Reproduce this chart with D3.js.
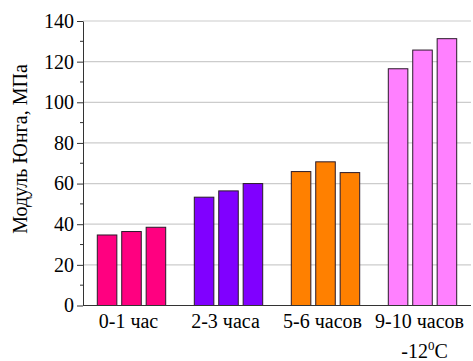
<!DOCTYPE html>
<html>
<head>
<meta charset="utf-8">
<script src="https://cdn.jsdelivr.net/npm/d3@7"></script>
<style>
  html, body { margin: 0; padding: 0; background: #fff; }
  svg { display: block; }
</style>
</head>
<body>
<svg id="chart" width="473" height="361"></svg>
<script>
// Young's modulus by curing time, three samples per time interval
const categories = ["0-1 час", "2-3 часа", "5-6 часов", "9-10 часов"];
const samples = [0, 1, 2];
const values = [
  [34.7, 36.4, 38.5],
  [53.3, 56.4, 60.0],
  [65.9, 70.7, 65.4],
  [116.5, 125.7, 131.3]
];
const colors = ["#ff0080", "#8000ff", "#ff8000", "#ff80ff"];
const yTicks = [0, 20, 40, 60, 80, 100, 120, 140];
const yMinorTicks = [10, 30, 50, 70, 90, 110, 130];
const yTitle = "Модуль Юнга, МПа";
const tempNote = "-12";

const serif = '"Liberation Serif"';
const svg = d3.select("#chart");
const plotLeft = 83, plotRight = 471, plotTop = 21, plotBottom = 305.5;

const x0 = d3.scaleBand().domain(categories).range([plotLeft, plotRight]);
const x1 = d3.scaleBand().domain(samples).range([-34.2, 34.2]).paddingInner(0.2);
const y = d3.scaleLinear().domain([0, 140]).range([plotBottom, plotTop]);

// horizontal grid lines
svg.append("g")
  .selectAll("line")
  .data(yTicks.filter(d => d > 0))
  .join("line")
  .attr("x1", plotLeft).attr("x2", plotRight)
  .attr("y1", d => y(d)).attr("y2", d => y(d))
  .attr("stroke", "#cccccc").attr("stroke-width", 1.2);

// bars
const groups = svg.append("g")
  .selectAll("g")
  .data(categories)
  .join("g")
  .attr("transform", d => `translate(${x0(d) + x0.bandwidth() / 2},0)`);

groups.selectAll("rect")
  .data((d, i) => values[i].map((v, j) => ({ v, j, c: colors[i] })))
  .join("rect")
  .attr("x", d => x1(d.j))
  .attr("width", x1.bandwidth())
  .attr("y", d => y(d.v))
  .attr("height", d => y(0) - y(d.v))
  .attr("fill", d => d.c)
  .attr("stroke", "#2a1a2a")
  .attr("stroke-width", 1);

// y axis with major and minor ticks
const yAxis = svg.append("g")
  .attr("transform", `translate(${plotLeft},0)`)
  .call(d3.axisLeft(y).tickValues(yTicks).tickSize(6).tickSizeOuter(0).tickPadding(3));
yAxis.selectAll("text")
  .style("font-family", serif).style("font-size", "20px").attr("fill", "#000");
yAxis.selectAll("line, path").attr("stroke", "#333");

svg.append("g")
  .selectAll("line")
  .data(yMinorTicks)
  .join("line")
  .attr("x1", plotLeft - 3).attr("x2", plotLeft)
  .attr("y1", d => y(d)).attr("y2", d => y(d))
  .attr("stroke", "#333");

// x axis baseline
svg.append("line")
  .attr("x1", plotLeft).attr("x2", plotRight)
  .attr("y1", y(0)).attr("y2", y(0))
  .attr("stroke", "#333");

// category labels
svg.append("g")
  .selectAll("text")
  .data(categories)
  .join("text")
  .attr("x", d => x0(d) + x0.bandwidth() / 2 - 3)
  .attr("y", 328)
  .attr("text-anchor", "middle")
  .style("font-family", serif).style("font-size", "20px")
  .text(d => d);

// temperature note under the last group
const note = svg.append("text")
  .attr("x", x0(categories[3]) + x0.bandwidth() / 2 + 2)
  .attr("y", 358)
  .attr("text-anchor", "middle")
  .style("font-family", serif).style("font-size", "20px");
note.append("tspan").text(tempNote);
note.append("tspan").style("font-size", "13px").attr("dy", -8).text("0");
note.append("tspan").attr("dy", 8).text("C");

// y axis title
svg.append("text")
  .attr("transform", "translate(20,149) rotate(-90)")
  .attr("text-anchor", "middle")
  .attr("dy", "0.35em")
  .style("font-family", serif).style("font-size", "20px")
  .text(yTitle);
</script>
</body>
</html>
